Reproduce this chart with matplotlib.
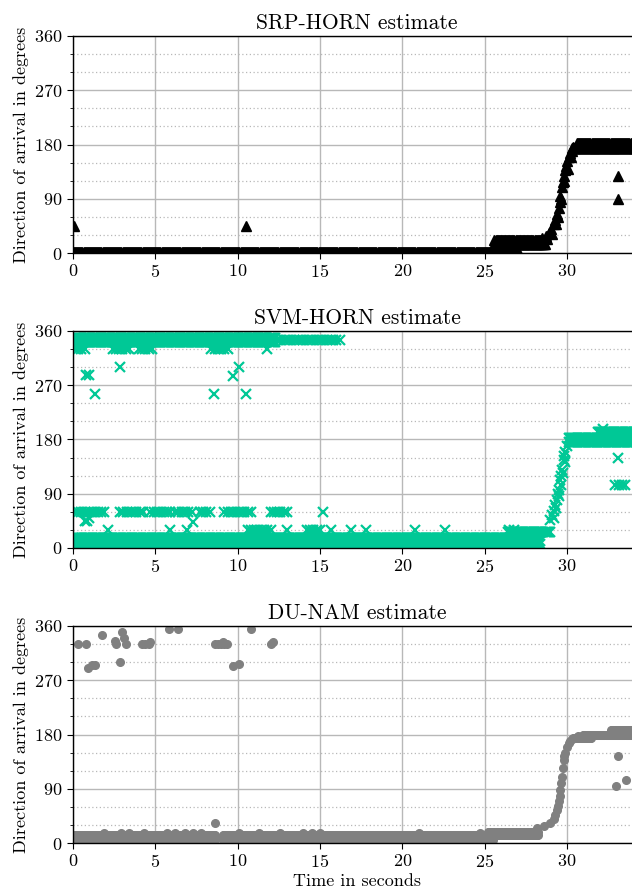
import numpy as np
import matplotlib
matplotlib.use('Agg')
import matplotlib.pyplot as plt
from matplotlib.ticker import MultipleLocator

plt.rcParams['font.family'] = ['cmr10', 'DejaVu Serif']
plt.rcParams['mathtext.fontset'] = 'cm'
plt.rcParams['axes.formatter.use_mathtext'] = True

# frame hop of the estimators (seconds) for dense tracks, and for sparse chains
FRAME = 0.064
SPARSE = 0.2

# ---------------- SRP-HORN ----------------
srp_bands = [(0.0, 27.0, 2), (25.6, 28.7, 15), (25.6, 28.6, 22),
             (30.3, 34.5, 175), (30.6, 34.5, 183)]
srp_ramp_t = [28.5, 28.7, 28.9, 29.05, 29.2, 29.3, 29.4, 29.5, 29.55, 29.6, 29.7,
              29.75, 29.8, 29.9, 29.95, 30.0, 30.1, 30.2, 30.3, 30.4,
              28.8, 29.1, 29.35, 29.45, 29.65, 29.85, 30.05, 30.25]
srp_ramp_v = [25, 28, 33, 40, 48, 55, 65, 75, 85, 95, 110,
              118, 128, 138, 145, 152, 160, 166, 170, 176,
              24, 32, 48, 60, 90, 120, 140, 160]
srp_out_t = [0.05, 10.5, 33.1, 33.1, 27.1]
srp_out_v = [45, 45, 127, 90, 0]

# ---------------- SVM-HORN ----------------
svm_bands = [(0.0, 28.4, 6), (0.0, 28.4, 12), (0.0, 27.0, 17), (26.4, 29.0, 27),
             (0.1, 12.3, 341), (0.1, 12.3, 348),
             (30.1, 34.5, 176), (30.1, 34.5, 183), (31.9, 34.5, 193)]
svm_sparse = [(12.4, 16.3, 345),
              (0.1, 0.9, 330), (2.4, 3.5, 330), (4.0, 5.0, 330), (8.4, 9.5, 330),
              (0.1, 2.1, 60), (2.85, 4.4, 60), (4.7, 5.9, 60), (6.2, 7.3, 60),
              (7.7, 8.3, 60), (9.2, 10.9, 60), (12.0, 13.2, 60),
              (10.6, 12.2, 30), (14.2, 15.0, 30), (0.8, 1.2, 287)]
svm_ramp_t = [29.0, 29.1, 29.2, 29.3, 29.4, 29.45, 29.5, 29.6, 29.65, 29.7, 29.8,
              29.85, 29.9, 30.0, 29.2, 29.35, 29.5, 29.62, 29.75, 29.88]
svm_ramp_v = [46, 55, 62, 72, 80, 90, 96, 113, 120, 130, 146,
              152, 160, 170, 50, 66, 86, 104, 124, 142]
svm_out_t = [2.1, 5.9, 6.9, 13.0, 15.7, 16.9, 17.8, 20.8, 22.6, 26.5, 26.8,
             15.2, 0.7, 0.85, 1.0, 7.3,
             1.35, 2.85, 8.55, 9.7, 10.1, 10.5, 11.8,
             32.2, 33.1, 32.95, 33.15, 33.35, 33.55]
svm_out_v = [30, 30, 30, 30, 30, 30, 30, 30, 30, 30, 30,
             60, 45, 45, 50, 43,
             255, 300, 255, 285, 300, 255, 330,
             197, 150, 105, 105, 105, 105]

# ---------------- DU-NAM ----------------
du_bands = [(0.0, 8.7, 5), (0.0, 8.7, 10), (0.0, 8.7, 13),
            (9.1, 25.5, 5), (9.1, 25.5, 10), (9.1, 25.5, 13),
            (25.2, 28.3, 14), (25.2, 28.3, 19),
            (30.4, 31.5, 174), (31.0, 34.5, 180), (32.7, 34.5, 188)]
du_ramp_t = [28.2, 28.6, 29.0, 29.2, 29.3, 29.4, 29.45, 29.5, 29.55, 29.6, 29.65,
             29.7, 29.75, 29.8, 29.85, 29.9, 30.0, 30.1, 30.2, 30.3, 30.5, 30.7]
du_ramp_v = [25, 28, 33, 40, 47, 55, 62, 70, 78, 88, 100,
             110, 125, 138, 145, 150, 160, 166, 170, 172, 175, 177]
du_out_t = [0.3, 0.8, 0.9, 1.15, 1.35, 1.75, 2.55, 2.6, 3.0, 2.85, 3.1, 3.2,
            4.2, 4.4, 4.6, 4.7, 5.85, 6.4, 8.6, 8.8, 9.0, 9.2, 9.35, 9.1,
            9.7, 10.1, 10.8, 12.0, 12.15, 8.6,
            1.9, 2.9, 3.4, 4.3, 5.7, 6.2, 6.8, 7.3, 7.8, 10.1, 11.3, 12.6,
            14.0, 14.5, 15.0, 21.0, 24.7,
            33.1, 33.0, 33.6]
du_out_v = [330, 330, 290, 295, 295, 345, 335, 330, 350, 300, 340, 330,
            330, 330, 330, 333, 355, 355, 330, 330, 330, 330, 330, 333,
            293, 297, 355, 330, 333, 33,
            17, 17, 17, 17, 17, 17, 17, 17, 17, 17, 17, 17,
            17, 17, 17, 17, 17,
            144, 94, 104]


def band_points(bands, step):
    ts, vs = [], []
    for t0, t1, v in bands:
        t = np.arange(t0, t1, step)
        ts.append(t)
        vs.append(np.full(t.size, v, dtype=float))
    return np.concatenate(ts), np.concatenate(vs)


W, H = 632, 893
fig = plt.figure(figsize=(W / 100, H / 100), dpi=100)
left = 73 / W
width = 568 / W
height = 217 / H
bottoms = [1 - 253 / H, 1 - 548 / H, 1 - 843 / H]
titles = ['SRP-HORN estimate', 'SVM-HORN estimate', 'DU-NAM estimate']

axes = [fig.add_axes([left, b, width, height]) for b in bottoms]

for ax, title in zip(axes, titles):
    ax.set_xlim(0, 34.5)
    ax.set_ylim(0, 360)
    ax.xaxis.set_major_locator(MultipleLocator(5))
    ax.yaxis.set_major_locator(MultipleLocator(90))
    ax.yaxis.set_minor_locator(MultipleLocator(30))
    ax.grid(which='major', color='#b8b8b8', lw=1.0, zorder=0)
    ax.grid(which='minor', axis='y', color='#b8b8b8', ls=(0, (1, 2)), lw=0.9, zorder=0)
    ax.set_axisbelow(True)
    ax.tick_params(which='major', direction='out', length=4, width=0.8, labelsize=13)
    ax.tick_params(which='minor', direction='out', length=2, width=0.6)
    for s in ax.spines.values():
        s.set_linewidth(1.0)
        s.set_color('black')
    ax.set_title(title, fontsize=15.5, pad=5)
    ax.set_ylabel('Direction of arrival in degrees', fontsize=13, labelpad=4)

# SRP
ax = axes[0]
bt, bv = band_points(srp_bands, FRAME)
kw = dict(ls='none', marker='^', ms=6.5, color='black', mec='black')
ax.plot(bt, bv, **kw)
ax.plot(srp_ramp_t, srp_ramp_v, **kw)
ax.plot(srp_out_t, srp_out_v, **kw)

# SVM
ax = axes[1]
svm_color = '#00c896'
kw = dict(ls='none', marker='x', ms=6.5, mew=1.6, color=svm_color)
bt, bv = band_points(svm_bands, FRAME)
ax.plot(bt, bv, **kw)
st, sv = band_points(svm_sparse, SPARSE)
ax.plot(st, sv, **kw)
ax.plot(svm_ramp_t, svm_ramp_v, **kw)
ax.plot(svm_out_t, svm_out_v, **kw)

# DU
ax = axes[2]
du_color = '#808080'
kw = dict(ls='none', marker='o', ms=5.5, color=du_color, mec=du_color)
bt, bv = band_points(du_bands, FRAME)
ax.plot(bt, bv, **kw)
ax.plot(du_ramp_t, du_ramp_v, **kw)
ax.plot(du_out_t, du_out_v, **kw)
ax.set_xlabel('Time in seconds', fontsize=13, labelpad=2)

fig.savefig('out.png', dpi=100)
